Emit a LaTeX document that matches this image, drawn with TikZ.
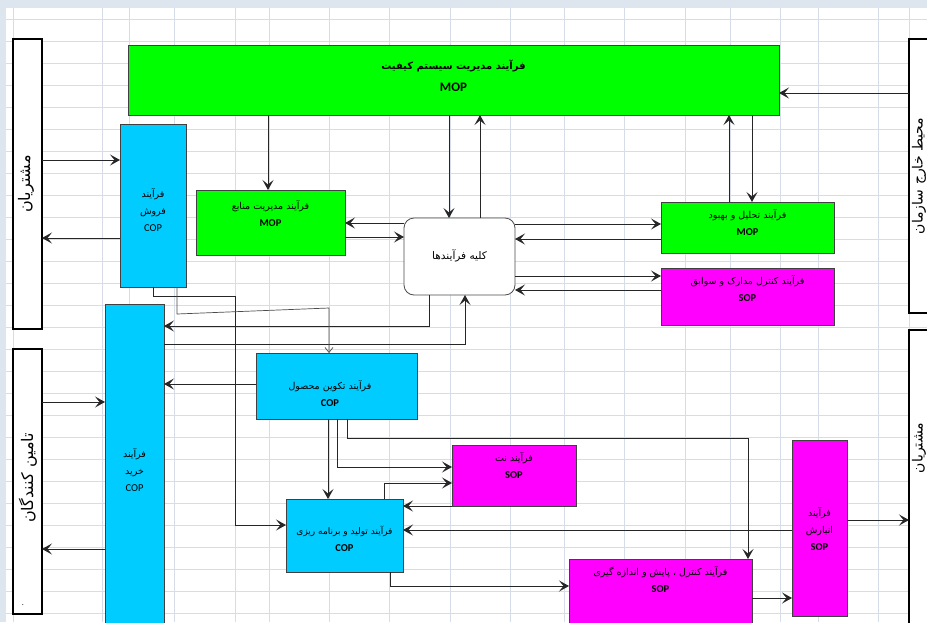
\documentclass[tikz,border=0pt]{standalone}
\usepackage{fontspec}
\setmainfont{Carlito}
\newfontfamily\farsi[Script=Arabic]{DejaVu Sans}
\TeXXeTstate=1
\usetikzlibrary{arrows.meta}

\definecolor{mopgreen}{RGB}{0,255,0}
\definecolor{copblue}{RGB}{0,204,255}
\definecolor{sopmagenta}{RGB}{255,0,255}
\definecolor{sheetgrid}{RGB}{214,220,232}
\definecolor{sheethead}{RGB}{221,229,239}

\newcommand{\fa}[1]{{\farsi\beginR#1\endR}}
\newcommand{\pcode}[1]{{\fontsize{10.5}{17}\selectfont\bfseries #1}}

\tikzset{
  procbox/.style={draw=black!75, line width=0.8pt, inner sep=0pt, outer sep=0pt},
  partybox/.style={draw=black, line width=1.5pt, fill=white, inner sep=0pt, outer sep=0pt},
  boxtext/.style={align=center, inner sep=0pt, font=\fontsize{9.5}{17}\selectfont},
  partytext/.style={rotate=90, inner sep=0pt, font=\fontsize{16}{18}\selectfont},
  flowarrow/.style={line width=1pt, draw=black!85, -{Stealth[length=10pt,width=11pt,inset=4.5pt]}},
  thinarrow/.style={line width=0.7pt, draw=black!70, -{Straight Barb[length=5pt,width=8pt]}},
}

\begin{document}
\begin{tikzpicture}[x=1pt, y=-1pt]
  \clip (0,0) rectangle (927,622);
  \fill[white] (0,0) rectangle (927,622);
  \fill[sheethead] (0,0) rectangle (927,8);
  \fill[sheethead] (0,0) rectangle (6,622);
  % sheet grid behind the chart
  \foreach \gx in {13,102,129,174,235,269,329,389,450,510,564,624,685,730,780,818,878,909}
    \draw[sheetgrid] (\gx,8) -- (\gx,622);
  \foreach \gy in {19,41,...,613}
    \draw[sheetgrid] (6,\gy) -- (927,\gy);

  % outside parties
  \node[partybox, minimum width=29pt, minimum height=290pt] (customers) at (27.5,184) {};
  \node[partytext] (customerslabel) at (26,184) {\fa{مشتریان}};
  \node[partybox, minimum width=29pt, minimum height=265pt] (suppliers) at (27.5,481.5) {};
  \node[partytext] (supplierslabel) at (28,478) {\fa{تامین کنندگان}};
  \node[inner sep=0pt, font=\fontsize{8}{8}\selectfont] (suppliersdot) at (23,605) {.};
  \node[partybox, minimum width=40pt, minimum height=274pt] (environment) at (929,176) {};
  \node[partytext, font=\fontsize{14}{16}\selectfont] (environmentlabel) at (919,176) {\fa{محیط خارج سازمان}};
  \node[partybox, minimum width=40pt, minimum height=320pt] (clients) at (929,490) {};
  \node[partytext, font=\fontsize{14}{16}\selectfont] (clientslabel) at (919,448) {\fa{مشتریان}};

  % processes
  \node[procbox, fill=mopgreen, minimum width=651pt, minimum height=70pt] (qms) at (453.5,80) {};
  \node[inner sep=0pt, font=\fontsize{10}{12}\selectfont\bfseries] (qmslabel) at (453.5,66) {\fa{فرآیند مدیریت سیستم کیفیت}};
  \node[inner sep=0pt, font=\fontsize{13}{15}\selectfont\bfseries] (qmscode) at (453.5,87) {MOP};

  \node[procbox, fill=copblue, minimum width=66pt, minimum height=163pt] (sales) at (153,205.5) {};
  \node[boxtext] (saleslabel) at (153,210) {\fa{فرآیند}\\\fa{فروش}\\{\fontsize{10.5}{17}\selectfont COP}};

  \node[procbox, fill=mopgreen, minimum width=149pt, minimum height=65pt] (resmgmt) at (270.5,222.5) {};
  \node[boxtext] (resmgmtlabel) at (270.5,214) {\fa{فرآیند مدیریت منابع}\\\pcode{MOP}};

  \node[draw=black!70, line width=0.8pt, fill=white, rounded corners=10pt, inner sep=0pt, outer sep=0pt,
        minimum width=111pt, minimum height=77pt] (allproc) at (459.5,256.5) {};
  \node[inner sep=0pt, font=\fontsize{10.5}{12}\selectfont] (allproclabel) at (459.5,256) {\fa{کلیه فرآیندها}};

  \node[procbox, fill=mopgreen, minimum width=173pt, minimum height=51pt] (improve) at (747.5,227.5) {};
  \node[boxtext] (improvelabel) at (747.5,222.5) {\fa{فرآیند تحلیل و بهبود}\\\pcode{MOP}};

  \node[procbox, fill=sopmagenta, minimum width=173pt, minimum height=57pt] (docs) at (747.5,296.5) {};
  \node[boxtext] (docslabel) at (747.5,289) {\fa{فرآیند کنترل مدارک و سوابق}\\\pcode{SOP}};

  \node[procbox, fill=copblue, minimum width=59pt, minimum height=336pt] (purchase) at (134.5,472) {};
  \node[boxtext] (purchaselabel) at (134.5,470) {\fa{فرآیند}\\\fa{خرید}\\{\fontsize{10.5}{17}\selectfont COP}};

  \node[procbox, fill=copblue, minimum width=161pt, minimum height=66pt] (proddev) at (336.5,386) {};
  \node[boxtext] (proddevlabel) at (330,393.5) {\fa{فرآیند تکوین محصول}\\\pcode{COP}};

  \node[procbox, fill=sopmagenta, minimum width=124pt, minimum height=61pt] (maint) at (514,475.5) {};
  \node[boxtext] (maintlabel) at (514,465.5) {\fa{فرآیند نت}\\\pcode{SOP}};

  \node[procbox, fill=copblue, minimum width=117pt, minimum height=73pt] (prodplan) at (344.5,535.5) {};
  \node[boxtext, font=\fontsize{9}{17}\selectfont] (prodplanlabel) at (344.5,538.5) {\fa{فرآیند تولید و برنامه ریزی}\\\pcode{COP}};

  \node[procbox, fill=sopmagenta, minimum width=183pt, minimum height=81pt] (measure) at (660.5,599.5) {};
  \node[boxtext] (measurelabel) at (660.5,580) {\fa{فرآیند کنترل ، پایش و اندازه گیری}\\\pcode{SOP}};

  \node[procbox, fill=sopmagenta, minimum width=55pt, minimum height=176pt] (storage) at (819.5,528) {};
  \node[boxtext] (storagelabel) at (819.5,529) {\fa{فرآیند}\\\fa{انبارش}\\\pcode{SOP}};

  % links with the outside
  \draw[flowarrow] ([yshift=83pt]environment.west) -- ([yshift=-13pt]qms.east);
  \draw[flowarrow] ([yshift=24pt]customers.east) -- ([yshift=45.5pt]sales.west);
  \draw[flowarrow] ([yshift=-32.5pt]sales.west) -- ([yshift=-54pt]customers.east);
  \draw[flowarrow] ([yshift=79.5pt]suppliers.east) -- ([yshift=70pt]purchase.west);
  \draw[flowarrow] ([yshift=-77pt]purchase.west) -- ([yshift=-67.5pt]suppliers.east);
  \draw[flowarrow] ([yshift=8pt]storage.east) -- ([yshift=-30pt]clients.west);

  % quality system and all processes
  \draw[flowarrow] ([xshift=-185.5pt]qms.south) -- ([xshift=-2.5pt]resmgmt.north);
  \draw[flowarrow] ([xshift=-4.5pt]qms.south) -- ([xshift=-10.5pt]allproc.north);
  \draw[flowarrow] ([xshift=20.5pt]allproc.north) -- ([xshift=26.5pt]qms.south);
  \draw[flowarrow] ([xshift=298.5pt]qms.south) -- ([xshift=4.5pt]improve.north);
  \draw[flowarrow] ([xshift=-18.5pt]improve.north) -- ([xshift=275.5pt]qms.south);
  \draw[flowarrow] ([yshift=33.5pt]allproc.west) -- ([yshift=-0.5pt]resmgmt.east);
  \draw[flowarrow] ([yshift=-14.5pt]resmgmt.east) -- ([yshift=19.5pt]allproc.west);
  \draw[flowarrow] ([yshift=32.5pt]allproc.east) -- ([yshift=3.5pt]improve.west);
  \draw[flowarrow] ([yshift=-11.5pt]improve.west) -- ([yshift=17.5pt]allproc.east);
  \draw[flowarrow] ([yshift=-19.5pt]allproc.east) -- ([yshift=20.5pt]docs.west);
  \draw[flowarrow] ([yshift=6.5pt]docs.west) -- ([yshift=-33.5pt]allproc.east);
  \draw[flowarrow] ([xshift=-30.5pt]allproc.south) |- ([yshift=146pt]purchase.east);
  \draw[flowarrow] ([yshift=128pt]purchase.east) -| ([xshift=5.5pt]allproc.south);

  % operational chain
  \draw[flowarrow] (sales.south) -- ++(0,9) -- ++(82,0) |- ([yshift=10.5pt]prodplan.west);
  \draw[thinarrow] ([xshift=24pt]sales.south) -- ++(0,27) -- ++(152,-6) -- ([xshift=-7.5pt]proddev.north);
  \draw[flowarrow] ([yshift=2pt]proddev.west) -- ([yshift=88pt]purchase.east);
  \draw[flowarrow] ([xshift=-8.5pt]proddev.south) -- ([xshift=-16.5pt]prodplan.north);
  \draw[flowarrow] ([xshift=0.5pt]proddev.south) |- ([yshift=8.5pt]maint.west);
  \draw[flowarrow] ([xshift=10.5pt]proddev.south) -- ++(0,19) -| ([xshift=87.5pt]measure.north);
  \draw[flowarrow] ([xshift=39.5pt]prodplan.north) |- ([yshift=-7.5pt]maint.west);
  \draw[flowarrow] ([yshift=-30.5pt]maint.west) -- ([yshift=29.5pt]prodplan.east);
  \draw[flowarrow] ([yshift=-2pt]storage.west) -- ([yshift=5.5pt]prodplan.east);
  \draw[flowarrow] ([xshift=45.5pt]prodplan.south) |- ([yshift=13.5pt]measure.west);
  \draw[flowarrow] ([yshift=1.5pt]measure.east) -- ([yshift=-70pt]storage.west);
\end{tikzpicture}
\end{document}
